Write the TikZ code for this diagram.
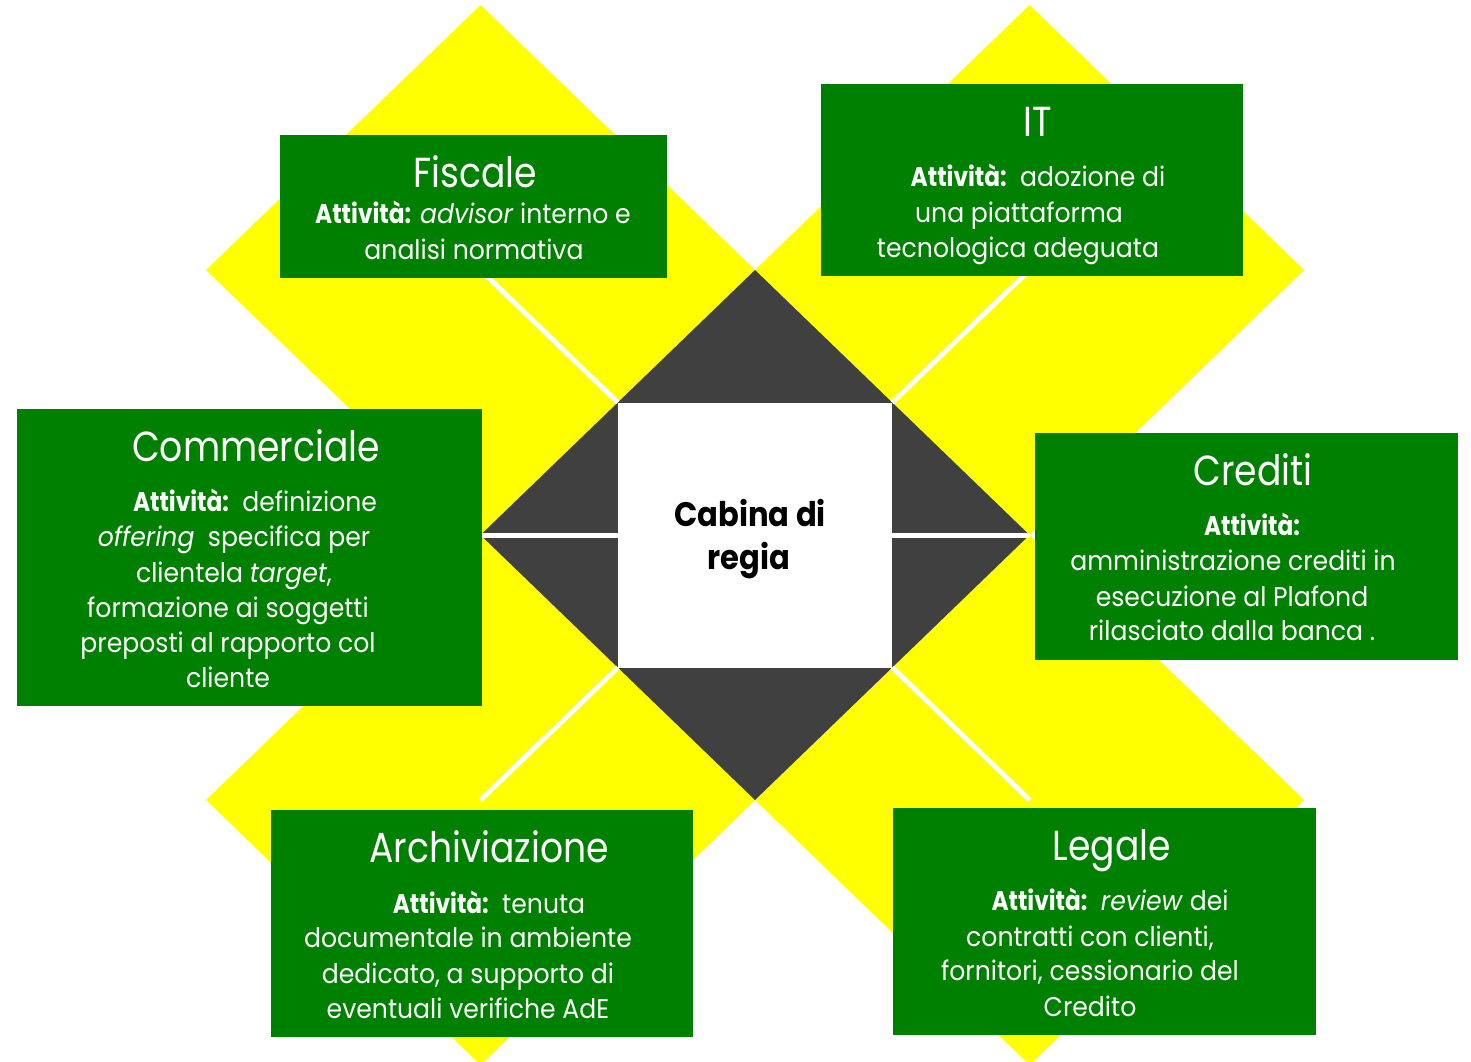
\documentclass[tikz,border=0pt]{standalone}
\usepackage{fontspec}
\setmainfont{Poppins}[FakeStretch=0.86]
\newfontfamily\bodyf{Poppins}[FakeStretch=0.93]
\newfontfamily\cabf{Poppins}[FakeStretch=0.9]
\definecolor{gr}{RGB}{0,128,0}
\definecolor{ye}{RGB}{255,255,0}
\definecolor{dk}{RGB}{64,64,64}
\tikzset{
  gbox/.style={fill=gr},
  title/.style={anchor=base,inner sep=0pt,text=white,font=\fontsize{21}{25}\selectfont},
  body/.style={anchor=base,inner sep=0pt,text=white,font=\bodyf\fontsize{13.5}{16}\selectfont},
  cab/.style={anchor=base,inner sep=0pt,text=black,font=\cabf\bfseries\fontsize{17}{20}\selectfont},
  wline/.style={draw=white,line width=2.5pt}
}
\newcommand{\att}{{\normalfont\bfseries\fontsize{13.5}{16}\selectfont Attività:}}
\begin{document}
\begin{tikzpicture}[x=0.5pt,y=-0.5pt]
\useasboundingbox (0,0) rectangle (1471,1061);
\clip (0,0) rectangle (1471,1061);
\fill[white] (0,0) rectangle (1471,1061);
% yellow diamonds
\fill[ye] (480.5,5) -- (755,270) -- (480.5,535) -- (206,270) -- cycle;
\fill[ye] (1029.5,5) -- (1304,270) -- (1029.5,535) -- (755,270) -- cycle;
\fill[ye] (480.5,535) -- (755,800) -- (480.5,1065) -- (206,800) -- cycle;
\fill[ye] (1029.5,535) -- (1304,800) -- (1029.5,1065) -- (755,800) -- cycle;
% gray diamond
\fill[dk] (755,270) -- (1029.5,535) -- (755,800) -- (480.5,535) -- cycle;
% white square
\fill[white] (617.75,402.5) rectangle (892.25,667.5);
\coordinate (sqTL) at (617.75,402.5);
\coordinate (sqTR) at (892.25,402.5);
\coordinate (sqBL) at (617.75,667.5);
\coordinate (sqBR) at (892.25,667.5);
\coordinate (sqL) at (617.75,535);
\coordinate (sqR) at (892.25,535);
\coordinate (yTL) at (480.5,270);
\coordinate (yTR) at (1029.5,270);
\coordinate (yBL) at (480.5,800);
\coordinate (yBR) at (1029.5,800);
\coordinate (gL) at (480.5,535);
\coordinate (gR) at (1029.5,535);
\draw[wline] (sqTL) -- (yTL);
\draw[wline] (sqTR) -- (yTR);
\draw[wline] (sqBL) -- (yBL);
\draw[wline] (sqBR) -- (yBR);
\draw[wline] (gL) -- (sqL);
\draw[wline] (sqR) -- (gR);
% centre text
\node[cab] (cab1) at (750,526) {Cabina di};
\node[cab] (cab2) at (749,569) {regia};
% green boxes
\fill[gbox] (280,135) rectangle (667,278);
\fill[gbox] (821,84) rectangle (1243,276);
\fill[gbox] (17,409) rectangle (482,706);
\fill[gbox] (1035,433) rectangle (1458,660);
\fill[gbox] (271,810) rectangle (693,1037);
\fill[gbox] (893,808) rectangle (1316,1035);
% Fiscale
\node[title] (f0) at (475,187) {Fiscale};
\node[body] (f1) at (473,223) {\att{} \textit{advisor} interno e};
\node[body] (f2) at (474,259) {analisi normativa};
% IT
\node[title] (i0) at (1038,136) {IT};
\node[body] (i1) at (1038,186) {\att{}\ \ adozione di};
\node[body] (i2) at (1019,222) {una piattaforma};
\node[body] (i3) at (1018,257) {tecnologica adeguata};
% Commerciale
\node[title] (c0) at (256,461) {Commerciale};
\node[body] (c1) at (255,511) {\att{}\ \ definizione};
\node[body] (c2) at (234,546) {\textit{offering}\ \ specifica per};
\node[body] (c3) at (234,582) {clientela \textit{target},};
\node[body] (c4) at (228,617) {formazione ai soggetti};
\node[body] (c5) at (228,652) {preposti al rapporto col};
\node[body] (c6) at (228,687) {cliente};
% Crediti
\node[title] (k0) at (1253,485) {Crediti};
\node[body] (k1) at (1252,535) {\att};
\node[body] (k2) at (1233,570) {amministrazione crediti in};
\node[body] (k3) at (1232,606) {esecuzione al Plafond};
\node[body] (k4) at (1232,640) {rilasciato dalla banca .};
% Archiviazione
\node[title] (a0) at (489,862) {Archiviazione};
\node[body] (a1) at (489,913) {\att{}\ \ tenuta};
\node[body] (a2) at (468,947) {documentale in ambiente};
\node[body] (a3) at (468,983) {dedicato, a supporto di};
\node[body] (a4) at (468,1018) {eventuali verifiche AdE};
% Legale
\node[title] (l0) at (1112,860) {Legale};
\node[body] (l1) at (1110,910) {\att{}\ \ \textit{review} dei};
\node[body] (l2) at (1090,946) {contratti con clienti,};
\node[body] (l3) at (1090,980) {fornitori, cessionario del};
\node[body] (l4) at (1090,1016) {Credito};
\end{tikzpicture}
\end{document}
